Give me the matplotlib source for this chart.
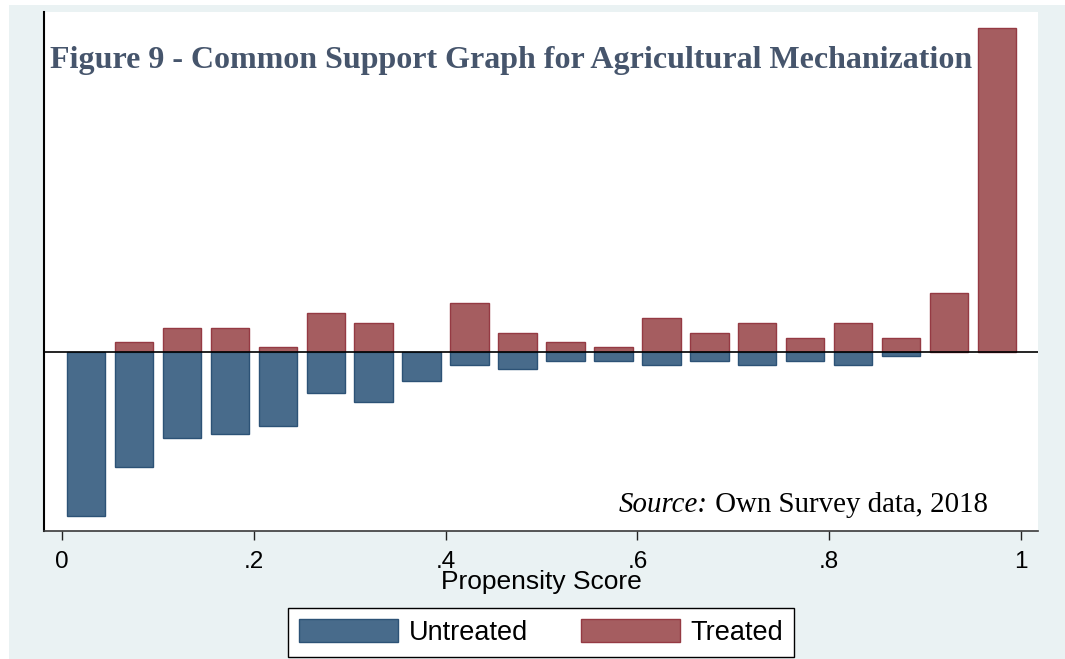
import matplotlib
matplotlib.use("Agg")
import matplotlib.pyplot as plt
import numpy as np
from matplotlib.patches import Rectangle, Patch

plt.rcParams["font.family"] = ["Liberation Sans", "DejaVu Sans"]

# Propensity-score bins (mid points) and observation counts per group
bin_mid = [0.025, 0.075, 0.125, 0.175, 0.225, 0.275, 0.325, 0.375, 0.425, 0.475,
           0.525, 0.575, 0.625, 0.675, 0.725, 0.775, 0.825, 0.875, 0.925, 0.975]
treated_counts = [0, 2, 5, 5, 1, 8, 6, 0, 10, 4, 2, 1, 7, 4, 6, 3, 6, 3, 12, 66]
untreated_counts = [40, 28, 21, 20, 18, 10, 12, 7, 3, 4, 2, 2, 3, 2, 3, 2, 3, 1, 0, 0]

tick_vals = [0, 0.2, 0.4, 0.6, 0.8, 1]
tick_labels = ["0", ".2", ".4", ".6", ".8", "1"]

title = "Figure 9 - Common Support Graph for Agricultural Mechanization"
group_names = ["Untreated", "Treated"]

BLUE, BLUE_EDGE = "#486b8b", "#2c5276"
RED, RED_EDGE = "#a55d60", "#953a43"
BG = "#eaf2f3"

W, H = 1065, 659
fig = plt.figure(figsize=(W / 100, H / 100), dpi=100, facecolor="white")
fig.patches.append(Rectangle((9 / W, 0), 1, (H - 5) / H, transform=fig.transFigure,
                             facecolor=BG, edgecolor="none", zorder=-10))

ax = fig.add_axes([44 / W, 1 - 531 / H, (1038 - 44) / W, (531 - 12) / H])
ax.set_facecolor("white")
ax.set_zorder(1)

x = np.array(bin_mid)
t = np.array(treated_counts, dtype=float)
u = np.array(untreated_counts, dtype=float)
t_share = t / t.sum()
u_share = u / u.sum()

mt = t > 0
mu = u > 0
ax.bar(x[mt], t_share[mt], width=0.04, color=RED, edgecolor=RED_EDGE, linewidth=1.0, zorder=2)
ax.bar(x[mu], -u_share[mu], width=0.04, color=BLUE, edgecolor=BLUE_EDGE, linewidth=1.0, zorder=2)
ax.axhline(0, color="black", lw=1.2, zorder=3)

ax.set_xlim(-0.01877, 1.01773)
ax.set_ylim(-0.2408, 0.4586)

for s in ("top", "right"):
    ax.spines[s].set_visible(False)
ax.spines["left"].set_color("black")
ax.spines["left"].set_linewidth(1.5)
ax.spines["bottom"].set_color("#3a3a3a")
ax.spines["bottom"].set_linewidth(1.2)

ax.set_yticks([])
ax.set_xticks(tick_vals, tick_labels)
ax.tick_params(axis="x", length=6.5, width=1, color="#222222", labelcolor="black",
               pad=8, labelsize=17.5)
ax.set_xlabel("Propensity Score", fontsize=19, labelpad=-2)

ax.text(50 / W, 1 - 68 / H, title, transform=fig.transFigure, fontfamily="Liberation Serif",
        fontweight="bold", fontsize=23.0, color="#46556c", va="baseline", ha="left", zorder=5)

# Source note: italic lead-in followed by regular text
src_y = 1 - 512 / H
rest = ax.text(988 / W, src_y, " Own Survey data, 2018", transform=fig.transFigure,
               fontfamily="Liberation Serif", fontsize=20.8, color="black",
               va="baseline", ha="right", zorder=5)
fig.canvas.draw()
bb = rest.get_window_extent(renderer=fig.canvas.get_renderer())
ax.text(bb.x0 / W, src_y, "Source:", transform=fig.transFigure, fontfamily="Liberation Serif",
        fontstyle="italic", fontsize=20.8, color="black", va="baseline", ha="right", zorder=5)

handles = [Patch(facecolor=BLUE, edgecolor=BLUE_EDGE, linewidth=1.0),
           Patch(facecolor=RED, edgecolor=RED_EDGE, linewidth=1.0)]
leg = fig.legend(handles, group_names, loc="center", bbox_to_anchor=(541 / W, 1 - 632.5 / H),
                 ncol=2, frameon=True, fancybox=False, edgecolor="black", fontsize=19.5,
                 handlelength=3.65, handleheight=0.92, handletextpad=0.4, columnspacing=1.95,
                 borderpad=0.4)
leg.get_frame().set_linewidth(1.0)
leg.get_frame().set_facecolor("white")
leg.get_frame().set_alpha(1)

fig.savefig("out.png", dpi=100, facecolor=fig.get_facecolor())
